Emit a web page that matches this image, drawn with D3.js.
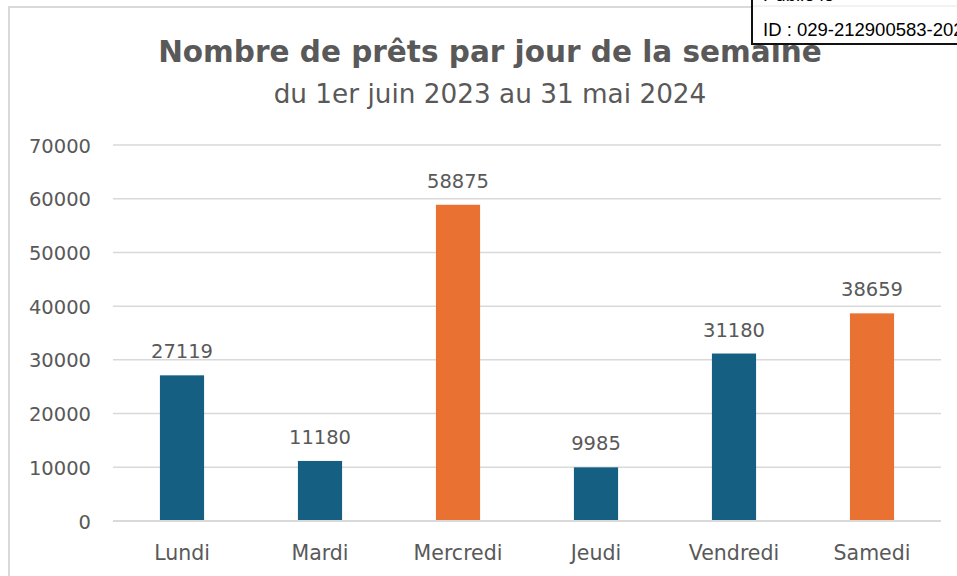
<!DOCTYPE html>
<html>
<head>
<meta charset="utf-8">
<script src="https://cdn.jsdelivr.net/npm/d3@7/dist/d3.min.js"></script>
<style>
  html, body { margin: 0; padding: 0; background: #fff; }
  svg { display: block; }
</style>
</head>
<body>
<svg id="chart" width="957" height="576"></svg>
<script>
// Loans per weekday, 1 June 2023 – 31 May 2024
const days = ["Lundi", "Mardi", "Mercredi", "Jeudi", "Vendredi", "Samedi"];
const loans = [27119, 11180, 58875, 9985, 31180, 38659];
const highlighted = [false, false, true, false, false, true];
const yTicks = [0, 10000, 20000, 30000, 40000, 50000, 60000, 70000];

const titleText = "Nombre de prêts par jour de la semaine";
const subtitleText = "du 1er juin 2023 au 31 mai 2024";
const stampTop = "Publié le";
const stampId = "ID : 029-212900583-20240601-DEL_2024_01-DE";

const W = 957, H = 576;
const margin = { left: 113, right: 16 };
const font = "'DejaVu Sans', 'Noto Sans', sans-serif";
const stampFont = "'Liberation Sans', Arial, sans-serif";
const textColor = "#595959";
const gridColor = "#d9d9d9";
const blue = "#156082", orange = "#e97132";

const svg = d3.select("#chart");

// chart frame
svg.append("rect")
  .attr("x", 9).attr("y", 7)
  .attr("width", W).attr("height", H)
  .attr("fill", "#fff")
  .attr("stroke", "#d9d9d9").attr("stroke-width", 2);

const x = d3.scaleBand()
  .domain(days)
  .range([margin.left, W - margin.right])
  .paddingInner(0.68).paddingOuter(0.34);

const y = d3.scaleLinear()
  .domain([0, 70000])
  .range([521, 145]);

// gridlines
svg.append("g")
  .selectAll("line")
  .data(yTicks)
  .join("line")
  .attr("x1", margin.left).attr("x2", W - margin.right)
  .attr("y1", d => y(d)).attr("y2", d => y(d))
  .attr("stroke", gridColor).attr("stroke-width", 1.5);

// y axis labels
const yAxis = d3.axisLeft(y).tickValues(yTicks).tickSize(0).tickPadding(0).tickFormat(d3.format("d"));
svg.append("g")
  .attr("transform", "translate(91,0)")
  .call(yAxis)
  .call(g => g.select(".domain").remove())
  .call(g => g.selectAll("text")
    .attr("font-family", font).attr("font-size", 19.5)
    .attr("fill", textColor).attr("dy", "0.36em"));

// bars
svg.append("g")
  .selectAll("rect")
  .data(days)
  .join("rect")
  .attr("x", d => x(d))
  .attr("width", x.bandwidth())
  .attr("y", (d, i) => y(loans[i]))
  .attr("height", (d, i) => y(0) - y(loans[i]))
  .attr("fill", (d, i) => highlighted[i] ? orange : blue);

// value labels
svg.append("g")
  .selectAll("text")
  .data(days)
  .join("text")
  .attr("x", d => x(d) + x.bandwidth() / 2)
  .attr("y", (d, i) => y(loans[i]) - 17)
  .attr("text-anchor", "middle")
  .attr("font-family", font).attr("font-size", 19.5)
  .attr("fill", textColor)
  .text((d, i) => loans[i]);

// baseline
svg.append("line")
  .attr("x1", margin.left).attr("x2", W - margin.right)
  .attr("y1", y(0)).attr("y2", y(0))
  .attr("stroke", gridColor).attr("stroke-width", 2);

// category axis
const xAxis = d3.axisBottom(x).tickSize(0).tickPadding(0);
svg.append("g")
  .attr("transform", `translate(0,${y(0)})`)
  .call(xAxis)
  .call(g => g.select(".domain").remove())
  .call(g => g.selectAll("text")
    .attr("font-family", font).attr("font-size", 20.5)
    .attr("fill", textColor).attr("y", 39).attr("dy", 0));

// titles
svg.append("text")
  .attr("x", 490).attr("y", 62)
  .attr("text-anchor", "middle")
  .attr("font-family", font).attr("font-weight", 700).attr("font-size", 29.5)
  .attr("fill", textColor)
  .text(titleText);

svg.append("text")
  .attr("x", 490).attr("y", 103)
  .attr("text-anchor", "middle")
  .attr("font-family", font).attr("font-size", 26.3)
  .attr("fill", textColor)
  .text(subtitleText);

// publication stamp (top right)
const stamp = svg.append("g");
stamp.append("rect")
  .attr("x", 752).attr("y", -10)
  .attr("width", 260).attr("height", 54)
  .attr("fill", "#fff")
  .attr("stroke", "#111").attr("stroke-width", 2);
stamp.append("line")
  .attr("x1", 753).attr("x2", W).attr("y1", 6).attr("y2", 6)
  .attr("stroke", "#e6e6e6").attr("stroke-width", 1);
stamp.append("text")
  .attr("x", 763).attr("y", 1)
  .attr("font-family", stampFont).attr("font-size", 18.5)
  .attr("fill", "#000")
  .text(stampTop);
stamp.append("text")
  .attr("x", 763).attr("y", 36)
  .attr("font-family", stampFont).attr("font-size", 18.5)
  .attr("fill", "#000")
  .text(stampId);
</script>
</body>
</html>
